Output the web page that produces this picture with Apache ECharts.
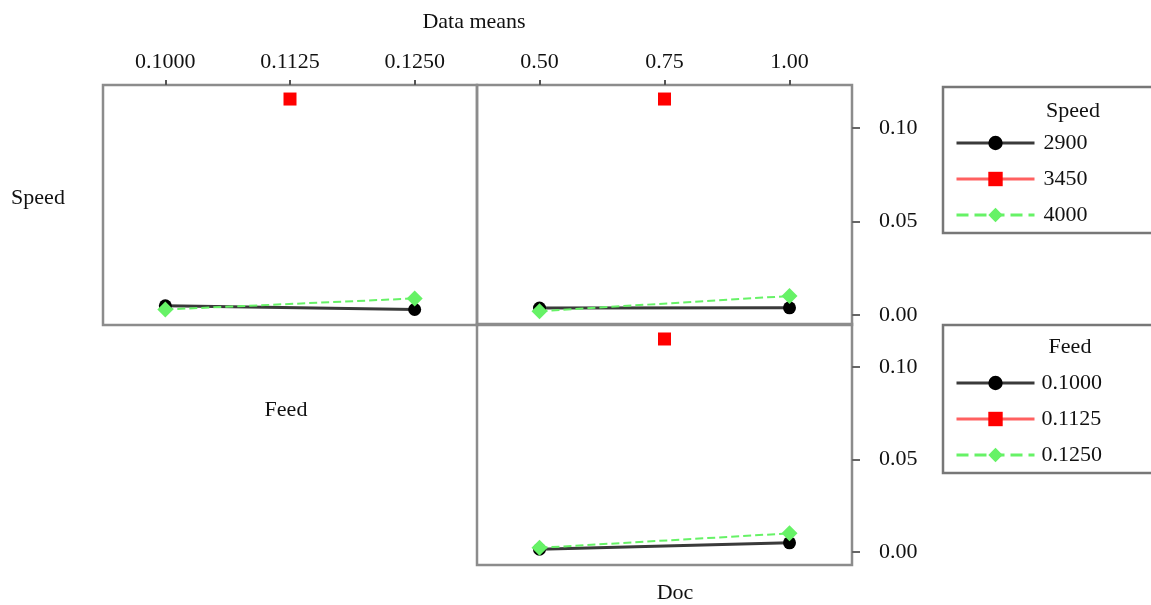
<!DOCTYPE html>
<html>
<head>
<meta charset="utf-8">
<script src="https://cdn.jsdelivr.net/npm/echarts@6/dist/echarts.min.js"></script>
<style>
html,body{margin:0;padding:0;background:#fff;}
#c{width:1151px;height:605px;}
</style>
</head>
<body>
<div id="c"></div>
<script>
// ---- data ----
const feedLevels = ['0.1000', '0.1125', '0.1250'];
const docLevels = ['0.50', '0.75', '1.00'];
const yTicks = [0, 0.05, 0.10];
const speedNames = ['2900', '3450', '4000'];
const feedNames = ['0.1000', '0.1125', '0.1250'];
// Speed means by Feed (top-left panel)
const s2900ByFeed = [0.0050, null, 0.0030];
const s3450ByFeed = [null, 0.1155, null];
const s4000ByFeed = [0.0030, null, 0.0089];
// Speed means by Doc (top-right panel)
const s2900ByDoc = [0.0038, null, 0.0039];
const s3450ByDoc = [null, 0.1155, null];
const s4000ByDoc = [0.0021, null, 0.0102];
// Feed means by Doc (bottom-right panel)
const f1000ByDoc = [0.0015, null, 0.0050];
const f1125ByDoc = [null, 0.1151, null];
const f1250ByDoc = [0.0023, null, 0.0101];

const FONT = 'Liberation Serif';
const FS = 22;
const styles = [
  {color: '#000000', line: '#3a3a3a', symbol: 'circle', size: 13, type: 'solid', width: 3},
  {color: '#ff0000', line: '#ff6060', symbol: 'rect', size: 13, type: 'solid', width: 3},
  {color: '#66f266', line: '#66f266', symbol: 'diamond', size: 16, type: 'dashed', width: 2}
];

function mk(name, data, idx, st) {
  return {
    type: 'line', name: name, data: data,
    xAxisIndex: idx, yAxisIndex: idx,
    connectNulls: true, showSymbol: true, showAllSymbol: true,
    symbol: st.symbol, symbolSize: st.size,
    itemStyle: {color: st.color},
    lineStyle: {color: st.line, type: st.type, width: st.width},
    emphasis: {disabled: true},
    animation: false
  };
}

const series = [];
[s2900ByFeed, s3450ByFeed, s4000ByFeed].forEach((d, i) => series.push(mk(speedNames[i], d, 0, styles[i])));
[s2900ByDoc, s3450ByDoc, s4000ByDoc].forEach((d, i) => series.push(mk(speedNames[i], d, 1, styles[i])));
[f1000ByDoc, f1125ByDoc, f1250ByDoc].forEach((d, i) => series.push(mk(feedNames[i], d, 2, styles[i])));

const gridBase = {show: true, borderColor: '#8c8c8c', borderWidth: 2.5, backgroundColor: 'transparent', containLabel: false};
const labelText = {fontFamily: FONT, fontSize: FS, color: '#111'};

function xAx(gi, cats, showTop) {
  return {
    type: 'category', gridIndex: gi, data: cats, boundaryGap: true,
    position: showTop ? 'top' : 'bottom',
    axisLine: {show: false, onZero: false},
    axisTick: showTop ? {show: true, alignWithLabel: true, length: 5, lineStyle: {color: '#555', width: 2}} : {show: false},
    axisLabel: showTop ? Object.assign({margin: 12}, labelText) : {show: false},
    splitLine: {show: false}
  };
}
function yAx(gi, mn, mx, showRight) {
  return {
    type: 'value', gridIndex: gi, min: mn, max: mx, position: 'right',
    axisLine: {show: false, onZero: false},
    axisTick: showRight ? {show: true, customValues: yTicks, length: 8, lineStyle: {color: '#666', width: 2}} : {show: false},
    axisLabel: showRight ? Object.assign({customValues: yTicks, margin: 27, formatter: v => v.toFixed(2)}, labelText) : {show: false},
    splitLine: {show: false}
  };
}

const legendBase = {
  orient: 'vertical', left: 955, padding: 0,
  itemWidth: 78, itemHeight: 18, itemGap: 14,
  lineStyle: {width: 3},
  selectedMode: false
};

function txt(t, x, y) {
  return {type: 'text', style: {text: t, x: x, y: y, fontFamily: FONT, fontSize: FS, fill: '#111', align: 'center', verticalAlign: 'middle'}};
}

const option = {
  backgroundColor: '#fff',
  animation: false,
  grid: [
    Object.assign({left: 103, top: 85, width: 374, height: 240}, gridBase),
    Object.assign({left: 477, top: 85, width: 375, height: 240}, gridBase),
    Object.assign({left: 477, top: 324, width: 375, height: 241}, gridBase)
  ],
  xAxis: [xAx(0, feedLevels, true), xAx(1, docLevels, true), xAx(2, docLevels, false)],
  yAxis: [yAx(0, -0.0053, 0.123, false), yAx(1, -0.0053, 0.123, true), yAx(2, -0.007, 0.1232, true)],
  legend: [
    Object.assign({
      data: speedNames, top: 132,
      textStyle: {fontFamily: FONT, fontSize: FS, color: '#111', lineHeight: 22, padding: [0, 0, 0, 4]}
    }, legendBase),
    Object.assign({
      data: feedNames, top: 372,
      textStyle: {fontFamily: FONT, fontSize: FS, color: '#111', lineHeight: 22, padding: [0, 0, 0, 2]}
    }, legendBase)
  ],
  graphic: [
    {type: 'rect', shape: {x: 943, y: 87, width: 220, height: 146}, style: {fill: 'none', stroke: '#777', lineWidth: 2.5}, z: 1},
    {type: 'rect', shape: {x: 943, y: 325, width: 220, height: 148}, style: {fill: 'none', stroke: '#777', lineWidth: 2.5}, z: 1},
    txt('Speed', 1073, 111),
    txt('Feed', 1070, 347),
    txt('Data means', 474, 22),
    txt('Speed', 38, 198),
    txt('Feed', 286, 410),
    txt('Doc', 675, 593)
  ],
  series: series
};

const chart = echarts.init(document.getElementById('c'), null, {renderer: 'canvas'});
chart.setOption(option);
</script>
</body>
</html>
